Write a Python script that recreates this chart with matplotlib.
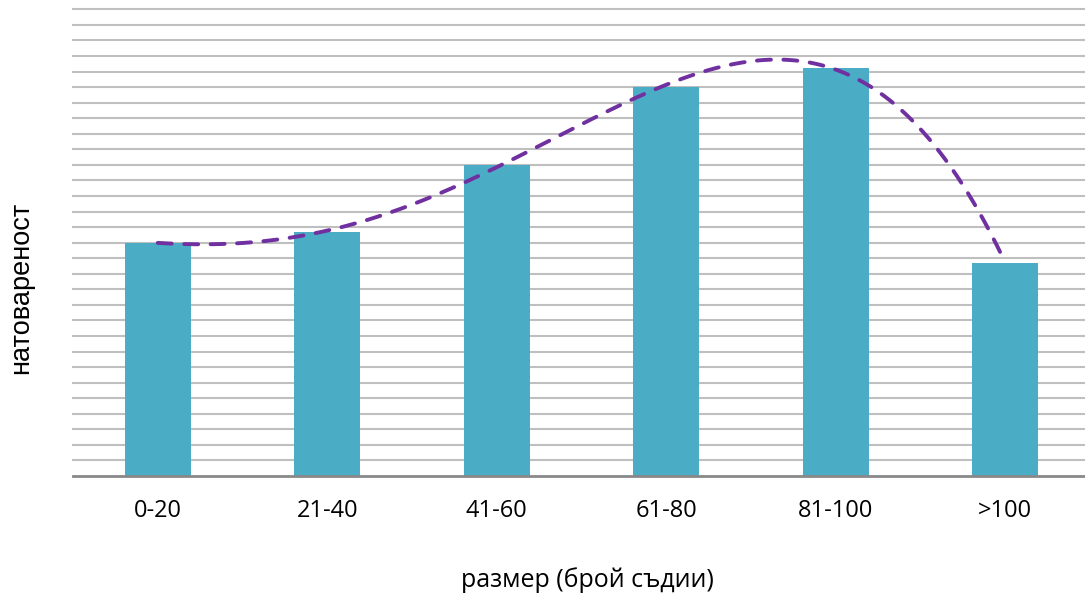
import matplotlib
matplotlib.use("Agg")
import matplotlib.pyplot as plt
import numpy as np

# размер на съда и натовареност
categories = ["0-20", "21-40", "41-60", "61-80", "81-100", ">100"]
load = [15.0, 15.7, 20.0, 25.0, 26.2, 13.7]
trend_degree = 4

bar_color = "#4bacc6"
trend_color = "#7030a0"
grid_color = "#bfbfbf"

fig = plt.figure(figsize=(10.85, 5.96), dpi=100)
ax = fig.add_axes([73 / 1085, 120 / 596, 1017 / 1085, 466.7 / 596])

x = np.arange(len(categories))
ax.bar(x, load, width=0.39, color=bar_color, zorder=2)

# полиномна линия на тренда
coef = np.polyfit(x, load, trend_degree)
xs = np.linspace(x[0], x[-1], 300)
ax.plot(xs, np.polyval(coef, xs), color=trend_color, linewidth=2.8,
	linestyle=(0, (3.6, 3.2)), dash_capstyle="round", zorder=3)

ax.set_xlim(-0.5, len(categories) - 0.5)
ax.set_ylim(0, 30)
ax.set_yticks(np.arange(1, 31))
ax.yaxis.grid(True, color=grid_color, linewidth=1.5, zorder=0)
for gl in ax.get_ygridlines():
	gl.set_clip_on(False)
ax.tick_params(axis="y", left=False, labelleft=False)
ax.tick_params(axis="x", bottom=False, labelsize=17, pad=13)
ax.set_xticks(x)
ax.set_xticklabels(categories, fontfamily="Open Sans")

for side in ["top", "right", "left"]:
	ax.spines[side].set_visible(False)
ax.spines["bottom"].set_color("#898989")
ax.spines["bottom"].set_linewidth(2)
ax.spines["bottom"].set_zorder(4)

fig.text(587 / 1085, 1 - 580 / 596, "размер (брой съдии)", ha="center",
	va="center", fontsize=18, fontfamily="Open Sans")
fig.text(21 / 1085, 1 - 288 / 596, "натовареност", ha="center", va="center",
	rotation=90, fontsize=19.5, fontfamily="Liberation Sans")

fig.savefig("out.png", dpi=100)
